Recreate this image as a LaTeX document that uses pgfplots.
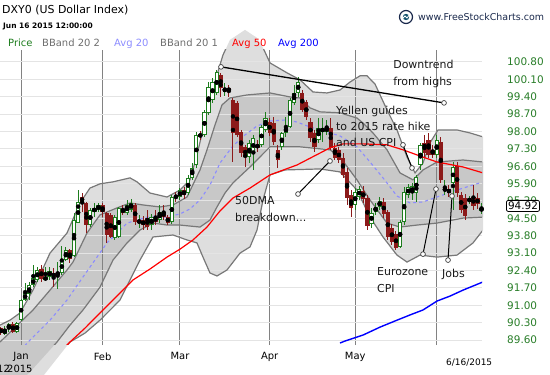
\documentclass[border=0pt]{standalone}
\usepackage{fontspec}
\setmainfont{DejaVu Sans}
\usepackage{pgfplots}
\pgfplotsset{compat=1.18}
\usepackage{pgfplotstable}
\usepgfplotslibrary{fillbetween}

\definecolor{upg}{RGB}{30,125,30}
\definecolor{dnr}{RGB}{140,26,26}
\definecolor{bandlt}{RGB}{222,222,222}
\definecolor{banddk}{RGB}{200,200,200}
\definecolor{bandln}{RGB}{120,120,120}
\definecolor{maxx}{RGB}{140,140,255}
\definecolor{tickg}{RGB}{40,125,40}
\definecolor{gridh}{RGB}{228,228,228}
\definecolor{gridv}{RGB}{130,130,130}
\definecolor{navy}{RGB}{25,40,75}
\definecolor{bbgrey}{RGB}{110,110,110}
\tikzset{annot/.style={black!75, fill=white, line width=0.7bp}}

% up (green) candles: index, open, high, low, close
\pgfplotstableread{
x o h l c
1 89.84 90.16 89.80 90.04
2 90.04 90.28 89.92 90.24
4 89.92 90.32 89.88 90.28
5 90.40 91.25 90.36 91.21
6 91.21 91.89 91.17 91.49
7 91.45 91.94 91.21 91.81
8 91.81 92.62 91.73 92.10
9 92.02 92.54 91.94 92.42
11 92.02 92.54 91.98 92.14
12 92.14 92.54 92.02 92.38
14 92.26 92.74 91.65 92.30
15 92.30 93.39 92.22 92.82
16 92.82 93.35 92.78 93.22
18 92.98 94.72 92.94 94.43
19 94.31 95.64 94.31 95.16
22 94.23 94.92 94.15 94.84
23 94.76 95.12 94.55 94.92
24 94.84 95.12 94.76 95.04
28 93.71 94.64 93.63 94.55
29 93.75 94.96 93.71 94.92
31 94.72 95.24 94.64 95.04
32 94.84 95.28 94.76 95.12
34 94.35 94.64 94.11 94.39
37 94.23 94.68 94.03 94.55
39 94.43 95.04 94.31 94.76
42 94.35 95.44 94.27 95.36
44 95.36 95.72 95.24 95.64
46 95.52 96.25 95.44 96.13
47 96.13 96.73 96.05 96.53
48 96.65 97.98 96.53 97.86
50 97.86 98.87 97.78 98.79
51 98.75 99.99 98.67 99.79
52 99.27 100.16 99.15 99.99
53 99.55 100.48 99.47 100.40
55 99.63 99.95 99.43 99.71
61 96.97 97.66 96.73 97.54
62 97.13 97.86 96.45 97.74
64 97.46 98.26 97.38 98.18
65 98.06 98.79 97.98 98.54
69 97.38 97.98 97.26 97.94
70 97.94 98.58 97.78 98.18
71 98.18 99.35 98.14 99.27
72 99.15 99.87 99.07 99.55
73 99.55 100.20 99.39 99.99
78 97.66 98.54 97.54 98.14
79 97.98 98.54 97.58 98.14
80 97.98 98.46 97.86 98.18
87 95.04 95.72 94.84 95.56
88 95.36 95.80 95.24 95.68
91 94.27 94.92 94.11 94.72
92 94.76 95.12 94.64 94.96
93 94.96 95.36 94.84 95.20
98 93.35 94.43 93.31 94.35
99 94.35 95.76 94.23 95.56
100 95.44 95.89 95.32 95.76
101 95.52 95.93 95.24 95.80
102 95.52 96.25 95.16 96.17
103 96.65 97.54 96.45 97.46
107 97.05 97.86 96.93 97.66
109 95.60 96.05 95.44 95.72
111 95.93 96.77 94.84 96.57
115 95.20 95.40 95.08 95.28
118 94.80 95.12 94.68 94.92
}\upc

% down (red) candles
\pgfplotstableread{
x o h l c
0 90.08 90.12 89.80 89.88
3 90.24 90.32 89.88 89.92
10 92.46 92.62 91.94 92.06
13 92.30 92.50 91.73 92.14
17 93.22 93.26 92.70 92.86
20 95.36 95.52 94.76 95.16
21 95.12 95.16 93.91 94.23
25 95.04 95.12 94.55 94.76
26 94.72 94.76 93.51 93.83
27 94.64 94.72 93.71 93.75
30 94.88 95.04 94.64 94.72
33 95.04 95.12 94.23 94.35
35 94.43 94.60 94.03 94.23
36 94.51 94.84 94.03 94.15
38 94.55 94.84 94.23 94.35
40 94.76 95.04 94.43 94.55
41 94.55 94.64 94.23 94.31
43 95.44 95.56 95.16 95.32
45 95.64 95.76 95.28 95.44
49 97.90 98.02 97.66 97.78
54 100.28 100.36 99.39 99.75
56 99.75 99.87 99.39 99.63
57 99.27 99.35 96.77 97.94
58 99.15 99.23 97.78 97.86
59 97.98 98.06 96.97 97.13
60 97.38 97.46 96.57 96.97
63 97.46 97.66 97.17 97.34
66 98.38 98.54 97.82 97.94
67 98.34 98.58 97.46 97.58
68 97.26 97.46 96.53 96.85
74 99.55 99.67 98.79 98.87
75 99.19 99.27 98.46 98.58
76 98.38 98.54 97.58 97.74
77 97.94 98.06 97.17 97.38
81 98.14 98.54 97.26 97.34
82 97.34 97.54 96.85 96.93
83 97.26 97.38 96.73 96.85
84 96.93 97.13 96.13 96.25
85 96.37 96.53 95.04 95.32
86 95.44 95.64 94.55 94.92
89 95.60 95.80 95.12 95.28
90 95.32 95.44 94.03 94.19
94 95.16 95.32 94.51 94.68
95 94.76 94.84 93.63 93.75
96 94.11 94.27 93.43 93.55
97 93.87 93.99 93.22 93.31
104 97.54 97.86 96.97 97.13
105 97.66 97.94 96.93 97.05
106 97.26 97.46 96.93 97.05
108 97.58 97.78 95.93 96.05
110 95.68 95.84 95.36 95.52
112 96.61 96.77 95.36 95.52
113 95.44 95.56 94.72 94.84
114 95.32 95.48 94.43 94.60
116 95.36 95.84 94.84 95.00
117 95.32 95.52 94.88 95.08
}\dnc

% Bollinger band 20 2 (upper)
\pgfplotstableread{
x y
-0.17 90.20
2.28 90.40
4.74 90.69
7.93 91.61
12.10 93.10
16.27 93.91
19.46 95.12
21.91 95.72
24.37 95.89
27.56 95.97
31.73 96.13
33.45 95.97
36.64 95.52
40.81 95.36
44.00 95.64
46.45 96.05
48.17 97.05
50.63 98.79
53.08 100.28
54.55 101.08
56.27 101.69
59.95 102.09
62.90 101.77
64.37 101.37
66.09 100.76
70.26 100.36
73.45 100.08
76.64 99.59
80.07 99.55
83.26 99.67
85.72 99.99
88.17 100.24
89.89 100.24
91.85 99.91
94.80 98.87
97.25 98.06
99.71 96.97
101.67 96.33
103.63 96.73
105.35 97.54
107.31 98.06
111.97 98.06
115.17 97.94
118.36 97.78
}\ubtwo

% Bollinger band 20 2 (lower)
\pgfplotstableread{
x y
-0.17 86.37
9.64 87.99
17.01 89.52
20.69 89.88
24.37 90.40
29.28 91.21
34.18 92.82
37.37 93.75
42.28 93.83
45.72 93.63
48.17 93.51
49.64 92.94
51.36 92.30
53.08 92.18
55.53 92.42
58.72 93.10
61.18 93.35
62.90 94.03
64.37 95.24
66.09 96.25
69.77 96.45
78.36 96.49
83.26 96.37
87.43 95.64
90.63 94.55
93.82 93.75
97.25 93.02
99.71 92.74
102.90 93.02
107.07 92.94
111.97 93.02
115.90 93.51
118.36 94.03
}\lbtwo

% Bollinger band 20 1 (upper)
\pgfplotstableread{
x y
-0.17 89.52
7.93 90.81
12.10 91.61
16.27 92.42
17.74 92.74
21.18 93.91
24.37 94.64
28.54 94.92
31.73 95.12
34.92 95.04
39.09 94.96
42.28 95.04
45.72 95.36
48.91 96.45
50.63 97.26
52.59 98.26
54.31 99.07
56.27 99.35
60.44 99.47
66.09 99.55
70.99 99.39
73.45 99.35
75.90 98.95
78.36 98.79
83.26 98.75
87.43 98.54
88.91 98.34
91.36 97.94
94.80 97.26
97.99 96.33
101.18 96.05
103.63 96.45
107.07 96.77
113.45 96.85
118.36 96.77
}\ubone

% Bollinger band 20 1 (lower)
\pgfplotstableread{
x y
-0.17 87.18
7.19 88.31
13.82 89.52
17.01 90.20
20.20 90.81
24.37 91.73
27.56 92.82
30.99 93.51
34.18 94.03
37.37 94.31
40.81 94.23
44.00 94.23
48.91 94.15
51.36 94.43
53.08 94.96
55.04 95.52
57.01 95.93
61.18 96.57
66.09 97.38
73.45 97.38
80.81 97.26
83.26 96.97
87.43 96.05
90.63 95.24
94.80 94.31
97.99 94.15
102.16 94.23
107.07 94.31
113.45 94.51
118.36 94.55
}\lbone

% Avg 20
\pgfplotstableread{
x y
-0.17 88.31
7.19 89.60
12.10 90.40
16.27 91.21
20.20 92.14
26.09 93.51
30.99 94.31
35.90 94.55
40.81 94.55
44.00 94.68
46.45 94.88
48.91 95.24
51.36 95.84
53.82 96.73
57.01 97.42
59.95 97.86
62.90 98.22
66.09 98.42
69.77 98.46
72.71 98.38
75.90 98.18
78.36 98.06
83.26 97.82
87.43 97.38
90.63 96.77
93.82 96.13
97.25 95.40
100.44 95.12
103.63 95.16
107.07 95.36
111.97 95.64
118.36 95.97
}\avgtw

% Avg 50
\pgfplotstableread{
x y
14.55 89.11
17.01 89.52
20.69 90.08
24.37 90.69
28.54 91.37
32.47 92.02
36.64 92.46
40.81 92.94
44.00 93.26
47.19 93.63
50.63 94.15
53.82 94.80
57.01 95.32
61.18 95.72
66.09 96.25
72.71 96.65
78.36 97.13
80.81 97.34
84.00 97.50
88.91 97.50
94.80 97.46
98.72 97.26
102.90 97.01
107.07 96.77
113.45 96.57
118.36 96.33
}\avgfif

% Avg 200
\pgfplotstableread{
x y
83.26 89.48
84.49 89.56
88.91 89.80
93.08 90.12
97.25 90.40
100.44 90.61
103.63 90.81
107.07 91.17
110.26 91.37
113.45 91.61
118.36 91.94
}\avgtwh

\begin{document}
\begin{tikzpicture}
\begin{axis}[
  at={(0,0)}, anchor=south west, scale only axis,
  width=482bp, height=295bp,
  xmin=-0.17, xmax=118.11, ymin=89.40, ymax=101.28,
  set layers,
  axis line style={draw=none},
  major tick length=0pt,
  xtick={5,25,44,66,87,107},
  xticklabels={Jan,Feb,Mar,Apr,May,{}},
  ytick={89.6,90.3,91.0,91.7,92.4,93.1,93.8,94.5,95.2,95.9,96.6,97.3,98.0,98.7,99.4,100.1,100.8},
  scaled y ticks=false,
  yticklabel pos=right,
  xmajorgrids, ymajorgrids,
  major x grid style={gridv, line width=1bp},
  major y grid style={gridh, line width=1bp},
  /pgf/number format/assume math mode=true,
  yticklabel style={/pgf/number format/fixed, /pgf/number format/fixed zerofill,
    /pgf/number format/precision=2, anchor=west, inner sep=0pt, xshift=25bp,
    text=tickg, font=\fontsize{10.5}{12}\selectfont},
  xticklabel style={font=\fontsize{10}{12}\selectfont, yshift=-4bp},
]
% bands
\addplot[name path=u2, bandln, line width=1.2bp] table[x=x,y=y] {\ubtwo};
\addplot[name path=l2, bandln, line width=1.2bp] table[x=x,y=y] {\lbtwo};
\addplot[name path=u1, bandln, line width=1.2bp] table[x=x,y=y] {\ubone};
\addplot[name path=l1, bandln, line width=1.2bp] table[x=x,y=y] {\lbone};
\addplot[bandlt, draw=none] fill between[of=u2 and l2, on layer=axis background];
\addplot[banddk, draw=none] fill between[of=u1 and l1, on layer=axis background];
% avg 20
\addplot[maxx, line width=1.1bp, dash pattern=on 3bp off 3bp] table[x=x,y=y] {\avgtw};

% red candles: wick then body
\addplot[only marks, mark=none, error bars/.cd, y dir=both, y explicit, error mark=none,
  error bar style={draw=dnr, line width=1bp}]
  table[x=x, y expr={(\thisrow{h}+\thisrow{l})/2}, y error expr={(\thisrow{h}-\thisrow{l})/2}] {\dnc};
\addplot[only marks, mark=none, error bars/.cd, y dir=both, y explicit, error mark=none,
  error bar style={draw=dnr, line width=4.2bp}]
  table[x=x, y expr={(\thisrow{o}+\thisrow{c})/2}, y error expr={max(abs(\thisrow{o}-\thisrow{c})/2,0.02)}] {\dnc};
% green candles: wick, outline, hollow interior
\addplot[only marks, mark=none, error bars/.cd, y dir=both, y explicit, error mark=none,
  error bar style={draw=upg, line width=1bp}]
  table[x=x, y expr={(\thisrow{h}+\thisrow{l})/2}, y error expr={(\thisrow{h}-\thisrow{l})/2}] {\upc};
\addplot[only marks, mark=none, error bars/.cd, y dir=both, y explicit, error mark=none,
  error bar style={draw=upg, line width=4.2bp}]
  table[x=x, y expr={(\thisrow{o}+\thisrow{c})/2}, y error expr={max(abs(\thisrow{o}-\thisrow{c})/2,0.02)}] {\upc};
\addplot[only marks, mark=none, error bars/.cd, y dir=both, y explicit, error mark=none,
  error bar style={draw=white, line width=2.2bp}]
  table[x=x, y expr={(\thisrow{o}+\thisrow{c})/2}, y error expr={max(abs(\thisrow{o}-\thisrow{c})/2-0.04,0)}] {\upc};

% moving averages
\addplot[red, line width=1.2bp] table[x=x,y=y] {\avgfif};
\addplot[blue, line width=1.4bp] table[x=x,y=y] {\avgtwh};

% annotations
\draw[black, line width=1.3bp] (axis cs:54.06,100.60) -- (axis cs:108.79,99.15);
\draw[black, line width=1bp] (axis cs:98.72,97.46) -- (axis cs:100.93,96.53);
\draw[black, line width=1bp] (axis cs:72.96,95.48) -- (axis cs:80.81,96.81);
\draw[black, line width=1bp] (axis cs:103.63,93.06) -- (axis cs:106.82,95.68);
\draw[black, line width=1bp] (axis cs:109.77,92.82) -- (axis cs:110.75,95.40);
\draw[annot] (axis cs:54.06,100.60) circle[radius=2.4bp];
\draw[annot] (axis cs:108.79,99.15) circle[radius=2.4bp];
\draw[annot] (axis cs:98.72,97.46) circle[radius=2.4bp];
\draw[annot] (axis cs:100.93,96.53) circle[radius=2.4bp];
\draw[annot] (axis cs:72.96,95.48) circle[radius=2.4bp];
\draw[annot] (axis cs:80.81,96.81) circle[radius=2.4bp];
\draw[annot] (axis cs:103.63,93.06) circle[radius=2.4bp];
\draw[annot] (axis cs:106.82,95.68) circle[radius=2.4bp];
\draw[annot] (axis cs:109.77,92.82) circle[radius=2.4bp];
\draw[annot] (axis cs:110.75,95.40) circle[radius=2.4bp];
\begin{scope}[every node/.style={anchor=base west, inner sep=0pt, font=\fontsize{11}{13}\selectfont, text=black!90}]
\node at (axis cs:96.3,100.52) {Downtrend};
\node at (axis cs:96.3,99.87) {from highs};
\node at (axis cs:82.28,98.67) {Yellen guides};
\node at (axis cs:82.28,98.02) {to 2015 rate hike};
\node at (axis cs:82.28,97.38) {and US CPI};
\node at (axis cs:57.50,95.04) {50DMA};
\node at (axis cs:57.50,94.39) {breakdown...};
\node at (axis cs:92.34,92.18) {Eurozone};
\node at (axis cs:92.34,91.53) {CPI};
\node at (axis cs:108.3,92.10) {Jobs};
\end{scope}
\coordinate (lastc) at (axis cs:118.11,95.00);
\end{axis}

\node[draw=black, line width=0.8bp, rounded corners=2bp, fill=white, inner sep=1.6bp,
  anchor=west, xshift=24bp, font=\fontsize{10.5}{12}\selectfont] at (lastc) {94.92};

\begin{scope}[x=1bp, y=-1bp, shift={(0bp,345bp)}]
\node[anchor=base west, inner sep=0pt, font=\fontsize{11}{13}\selectfont] at (2,14) {DXY0 (US Dollar Index)};
\node[anchor=base west, inner sep=0pt, font=\fontsize{7.5}{9}\selectfont\bfseries] at (3,29) {Jun 16 2015 12:00:00};
\begin{scope}[every node/.style={anchor=base west, inner sep=0pt, font=\fontsize{10}{12}\selectfont}]
\node[text=upg] at (8,46.5) {Price};
\node[text=bbgrey] at (42,46.5) {BBand 20 2};
\node[text=maxx] at (114,46.5) {Avg 20};
\node[text=bbgrey] at (160,46.5) {BBand 20 1};
\node[text=red] at (232,46.5) {Avg 50};
\node[text=blue] at (278,46.5) {Avg 200};
\node[text=navy, font=\fontsize{9.5}{11}\selectfont] at (418,21) {www.FreeStockCharts.com};
\node[font=\fontsize{9}{11}\selectfont] at (446,366) {6/16/2015};
\node at (-3,373) {12};
\node at (7,373) {2015};
\end{scope}
\draw[navy, line width=1.2bp, fill=white] (406,17) circle[radius=6.5];
\fill[navy!80!cyan] (406,17) circle[radius=3.2];
\draw[white, line width=0.8bp] (402,19) -- (405,16) -- (407,18) -- (410,14);
\end{scope}
\pgfresetboundingbox
\path[use as bounding box] (0,-30bp) rectangle (550bp,345bp);
\end{tikzpicture}
\end{document}
